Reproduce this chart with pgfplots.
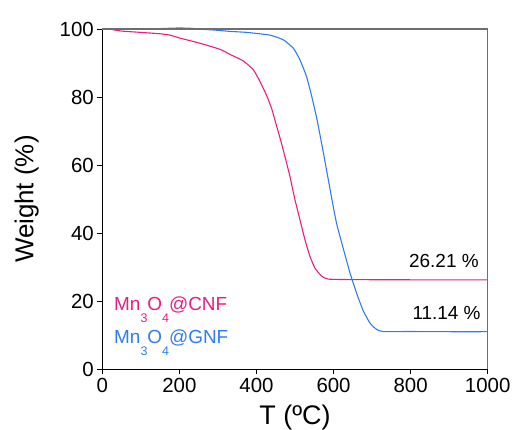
\documentclass[border=0pt]{standalone}
\usepackage{fontspec}
\setmainfont{Liberation Sans}
\usepackage{pgfplots}
\pgfplotsset{compat=1.18}
\definecolor{cnf}{HTML}{E91E80}
\definecolor{gnf}{HTML}{2F7CF2}
\definecolor{framegray}{HTML}{6E6E6E}
\newcommand{\lsub}[1]{\raisebox{-12bp}{\fontsize{12.5}{13}\selectfont #1}}
\begin{document}
\begin{tikzpicture}
\path[use as bounding box] (-102.3bp,-60.7bp) rectangle (412.7bp,369.3bp);
\begin{axis}[
  at={(0,0)}, anchor=south west,
  scale only axis, width=385.4bp, height=340.3bp,
  xmin=0, xmax=1000, ymin=0, ymax=100,
  axis lines*=left,
  axis line style={-, line width=0.8bp, black},
  xtick={0,200,...,1000}, ytick={0,20,...,100},
  tick align=outside, major tick length=5bp,
  tick style={black, line width=0.8bp},
  minor tick num=0,
  ticklabel style={font=\fontsize{20.5}{24}\selectfont},
  /pgf/number format/assume math mode=true,
  /pgf/number format/1000 sep={},
  clip=false,
]
\addplot[cnf, line width=1.1bp, smooth, tension=0.3] coordinates {
(17,100) (50,99.4) (100,99.0) (150,98.6) (176,98.2) (202,97.3) (254,95.8)
(306,94.0) (332,92.5) (366,90.6) (392,88.0) (409,84.6) (427,80.3) (440,76.4)
(452,71.6) (465,66.4) (476,61.6) (487,56.6) (500,49.8) (513,43.9) (526,38.0)
(539,33.1) (552,29.7) (569,27.4) (586,26.5) (650,26.35) (800,26.3) (1000,26.3)
};
\addplot[gnf, line width=1.1bp, smooth, tension=0.3] coordinates {
(17,100) (60,100) (120,100) (170,100.2) (200,100.3) (230,100.2) (260,99.9)
(290,99.7) (331,99.3) (375,99.0) (435,98.2) (470,96.8) (496,94.3) (513,90.9)
(530,86.0) (543,80.4) (556,74.0) (565,68.8) (575,62.8) (585,56.6) (595,50.4)
(608,42.8) (625,35.6) (643,28.2) (660,22.3) (677,17.2) (695,13.5) (712,11.7)
(729,11.1) (800,11.1) (900,11.05) (1000,11.05)
};
\draw[framegray, line width=1.5bp] (rel axis cs:0,1) -- (rel axis cs:1,1) -- (rel axis cs:1,0);
\node[anchor=base east, font=\fontsize{19}{22}\selectfont, inner sep=0pt] at (axis cs:977,29.8) {26.21 \%};
\node[anchor=base east, font=\fontsize{19}{22}\selectfont, inner sep=0pt] at (axis cs:982,14.5) {11.14 \%};
\node[anchor=base west, font=\fontsize{19}{22}\selectfont, inner sep=0pt, text=cnf] at (axis cs:30.4,17.4) {Mn\lsub{3}O\lsub{4}@CNF};
\node[anchor=base west, font=\fontsize{19}{22}\selectfont, inner sep=0pt, text=gnf] at (axis cs:30.4,7.7) {Mn\lsub{3}O\lsub{4}@GNF};
\node[anchor=base, font=\fontsize{27}{30}\selectfont, inner sep=0pt] at ([yshift=-55bp]axis description cs:0.5,0) {T (ºC)};
\node[anchor=base, rotate=90, font=\fontsize{26}{30}\selectfont, inner sep=0pt] at ([xshift=-69bp]axis description cs:0,0.5) {Weight (\%)};
\end{axis}
\end{tikzpicture}
\end{document}
